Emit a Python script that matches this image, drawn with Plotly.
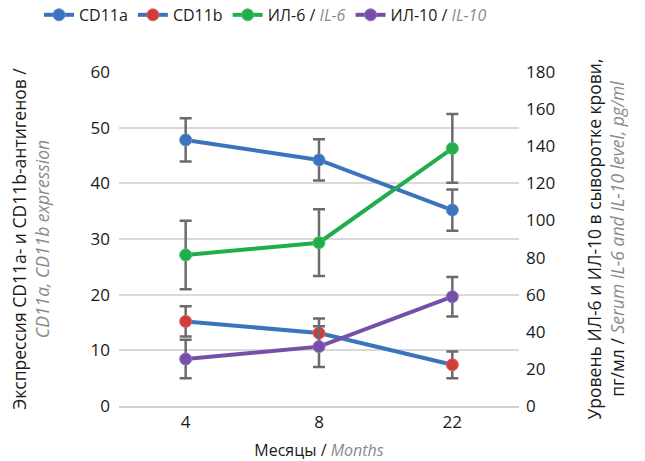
import plotly.graph_objects as go

months = ["4", "8", "22"]
cd11a = [47.8, 44.2, 35.2]
cd11a_err = [3.9, 3.7, 3.7]
cd11b = [15.2, 13.1, 7.4]
cd11b_err = [2.7, 2.6, 2.4]
il6 = [81.4, 88.0, 138.8]
il6_err = [18.5, 18.0, 18.5]
il10 = [25.3, 32.0, 58.9]
il10_err = [10.4, 11.0, 10.6]

BLUE = "#3b74bd"
RED = "#d03c3c"
GREEN = "#21ad4b"
PURPLE = "#7650a8"
ERR = "#6b6b6b"
GRAY = "#8a8a8a"
FONT = "Open Sans"

def err(vals):
    return dict(type="data", array=vals, visible=True, color=ERR, thickness=2.5, width=6)

def gray_it(t):
    return f"<i><span style='color:{GRAY}'>{t}</span></i>"

fig = go.Figure()
fig.add_trace(go.Scatter(x=months, y=cd11a, name="CD11a", mode="lines+markers",
                         line=dict(color=BLUE, width=4),
                         marker=dict(color=BLUE, size=12, line=dict(color="#5a8fd0", width=1)),
                         error_y=err(cd11a_err), yaxis="y"))
fig.add_trace(go.Scatter(x=months, y=cd11b, name="CD11b", mode="lines+markers",
                         line=dict(color=BLUE, width=4),
                         marker=dict(color=RED, size=12, line=dict(color="#e06060", width=1)),
                         error_y=err(cd11b_err), yaxis="y"))
fig.add_trace(go.Scatter(x=months, y=il6, name="ИЛ-6 / " + gray_it("IL-6"),
                         mode="lines+markers",
                         line=dict(color=GREEN, width=4),
                         marker=dict(color=GREEN, size=12, line=dict(color="#45c46a", width=1)),
                         error_y=err(il6_err), yaxis="y2"))
fig.add_trace(go.Scatter(x=months, y=il10, name="ИЛ-10 / " + gray_it("IL-10"),
                         mode="lines+markers",
                         line=dict(color=PURPLE, width=4),
                         marker=dict(color=PURPLE, size=12, line=dict(color="#9070c0", width=1)),
                         error_y=err(il10_err), yaxis="y2"))

fig.update_layout(
    width=645, height=461,
    margin=dict(l=119, r=126, t=72, b=55, autoexpand=False),
    paper_bgcolor="white", plot_bgcolor="white",
    font=dict(family=FONT, size=16, color="#1a1a1a"),
    showlegend=True,
    legend=dict(orientation="h", x=-0.20, xanchor="left",
                y=1.12, yanchor="bottom",
                font=dict(size=16), itemwidth=30, tracegroupgap=0),
    xaxis=dict(type="category", range=[-0.5, 2.5], showgrid=False, showline=True,
               linecolor="#d0d0d0", linewidth=2, automargin=False,
               ticks="", tickfont=dict(size=17),
               title=dict(text="Месяцы / " + gray_it("Months"),
                          font=dict(size=16), standoff=12)),
    yaxis=dict(range=[0, 60], dtick=10, showgrid=True, gridcolor="#d9d9d9", gridwidth=2,
               zeroline=False, ticks="", tickfont=dict(size=17), ticklabelstandoff=8,
               automargin=False,
               title=dict(text="Экспрессия CD11a- и CD11b-антигенов /<br>" + gray_it("CD11a, CD11b expression"),
                          font=dict(size=17.5), standoff=36)),
    yaxis2=dict(range=[0, 180], dtick=20, overlaying="y", side="right", showgrid=False,
                zeroline=False, ticks="", tickfont=dict(size=17), ticklabelstandoff=6,
                automargin=False,
                title=dict(text="Уровень ИЛ-6 и ИЛ-10 в сыворотке крови,<br>пг/мл / " + gray_it("Serum IL-6 and IL-10 level, pg/ml"),
                           font=dict(size=17.5), standoff=34)),
)

fig.write_html("out.html", config={"displayModeBar": False},
               post_script="document.body.style.margin='0';document.body.style.padding='0';")
